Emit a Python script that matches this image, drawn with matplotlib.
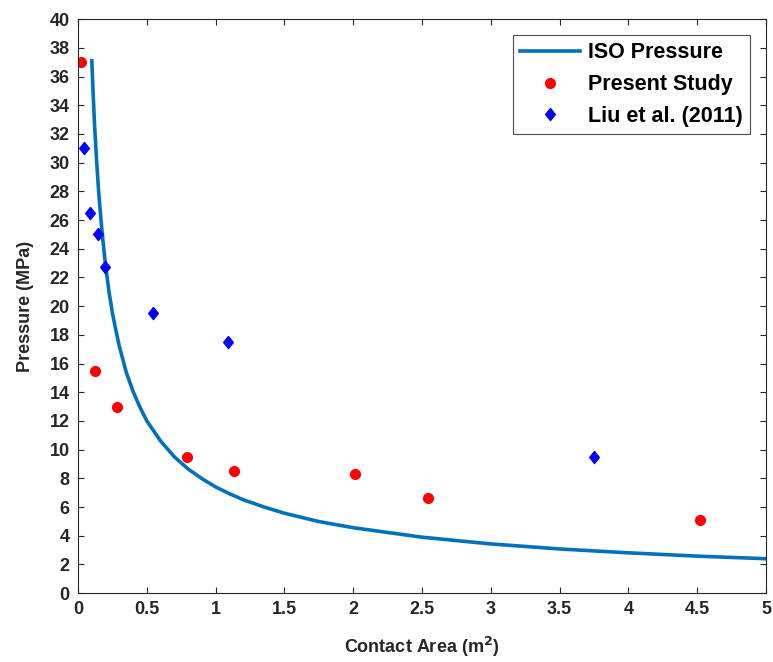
import matplotlib
matplotlib.use("Agg")
import matplotlib.pyplot as plt

plt.rcParams['font.family'] = ['Liberation Sans', 'DejaVu Sans']
plt.rcParams['font.weight'] = 'bold'

# ISO pressure curve
iso_area = [0.1, 0.11, 0.12, 0.135, 0.15, 0.175, 0.2, 0.225, 0.25, 0.275, 0.3, 0.35, 0.4, 0.45,
            0.5, 0.6, 0.7, 0.8, 0.9, 1.0, 1.1, 1.2, 1.35, 1.5, 1.75, 2.0, 2.5, 3.0, 3.5, 4.0, 4.5, 5.0]
iso_pressure = [37.1, 34.7, 32.6, 30.1, 27.9, 25.1, 22.8, 21.0, 19.5, 18.3, 17.2, 15.4, 14.05, 12.95,
                12.0, 10.6, 9.5, 8.65, 7.98, 7.4, 6.93, 6.51, 6.01, 5.57, 4.99, 4.56, 3.90, 3.43, 3.08,
                2.81, 2.58, 2.40]

# Present Study
present_area = [0.02, 0.12, 0.28, 0.79, 1.13, 2.01, 2.54, 4.52]
present_pressure = [37.0, 15.5, 13.0, 9.5, 8.5, 8.3, 6.6, 5.1]

# Liu et al. (2011)
liu_area = [0.04, 0.09, 0.145, 0.195, 0.545, 1.09, 3.75]
liu_pressure = [31.0, 26.5, 25.0, 22.7, 19.5, 17.5, 9.5]

xticks = [0, 0.5, 1, 1.5, 2, 2.5, 3, 3.5, 4, 4.5, 5]
yticks = list(range(0, 41, 2))

dark = '#262626'
diamond = [(0, 1), (0.8, 0), (0, -1), (-0.8, 0), (0, 1)]

fig = plt.figure(figsize=(7.73, 6.62), dpi=100)
ax = fig.add_axes([0.101, 0.104, 0.890, 0.867])

ax.plot(iso_area, iso_pressure, color='#0072BD', lw=2.6, label='ISO Pressure')
ax.plot(present_area, present_pressure, 'o', color='red', ms=7, mec='red',
        label='Present Study')
ax.plot(liu_area, liu_pressure, marker=diamond, ls='none', color='blue', ms=9, mec='blue',
        mew=0.8, label='Liu et al. (2011)')

ax.set_xlim(0, 5)
ax.set_ylim(0, 40)
ax.set_xticks(xticks)
ax.set_xticklabels([f'{t:g}' for t in xticks])
ax.set_yticks(yticks)

for s in ax.spines.values():
    s.set_color(dark)
    s.set_linewidth(0.8)
ax.tick_params(direction='in', top=True, right=True, length=4, width=0.8,
               colors=dark, labelsize=13, labelcolor=dark, pad=6)
for lab in ax.get_xticklabels() + ax.get_yticklabels():
    lab.set_fontweight('bold')

ax.set_xlabel('Contact Area (m$^\\mathbf{2}$)', fontsize=13, fontweight='bold', color=dark,
              labelpad=12)
ax.set_ylabel('Pressure (MPa)', fontsize=13, fontweight='bold', color=dark, labelpad=11)

leg = ax.legend(loc='upper right', fontsize=15.5, frameon=True, fancybox=False,
                edgecolor=dark, borderpad=0.33, handlelength=2.8, labelspacing=0.5,
                handletextpad=0.35, borderaxespad=0, bbox_to_anchor=(0.9765, 0.972))
leg.get_frame().set_linewidth(0.8)
for t in leg.get_texts():
    t.set_fontweight('bold')
    t.set_color('black')

fig.savefig('out.png', dpi=100)
